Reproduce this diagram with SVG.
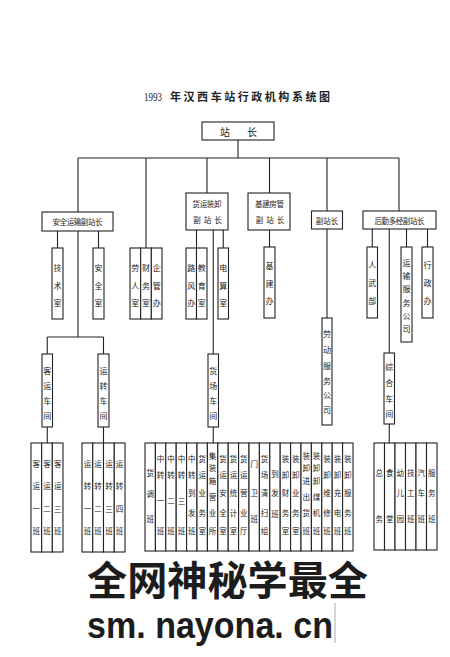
<svg xmlns="http://www.w3.org/2000/svg" width="450" height="657" viewBox="0 0 450 657">
<style>
.b{fill:#fff;stroke:#222;stroke-width:1.1}
.t{font-family:"Noto Sans CJK SC",sans-serif;fill:#222;text-anchor:middle;dominant-baseline:central}
.h{font-size:7.5px}
.v{font-size:8px}
.s{font-size:7.5px}
#connectors line{stroke:#222;stroke-width:1.1}
</style>
<rect width="450" height="657" fill="#fff"/>
<text x="144" y="101" font-family="Liberation Serif,serif" font-size="13" fill="#222" textLength="18" lengthAdjust="spacingAndGlyphs">1993</text>
<text x="170" y="101" font-family="Noto Sans CJK SC,sans-serif" font-size="11" font-weight="bold" fill="#222" textLength="160" lengthAdjust="spacing">年汉西车站行政机构系统图</text>

<g id="connectors">
<line x1="238" y1="140" x2="238" y2="158"/>
<line x1="78" y1="158" x2="399" y2="158"/>
<line x1="78" y1="158" x2="78" y2="212"/>
<line x1="146" y1="158" x2="146" y2="248"/>
<line x1="207" y1="158" x2="207" y2="193"/>
<line x1="269.5" y1="158" x2="269.5" y2="193"/>
<line x1="327" y1="158" x2="327" y2="211"/>
<line x1="399" y1="158" x2="399" y2="211"/>
<line x1="57.5" y1="231" x2="57.5" y2="248"/>
<line x1="98.5" y1="231" x2="98.5" y2="248"/>
<line x1="78" y1="231" x2="78" y2="337"/>
<line x1="47.25" y1="337" x2="103.5" y2="337"/>
<line x1="47.25" y1="337" x2="47.25" y2="354"/>
<line x1="103.5" y1="337" x2="103.5" y2="354"/>
<line x1="47.25" y1="427" x2="47.25" y2="443"/>
<line x1="103.5" y1="427" x2="103.5" y2="443"/>
<line x1="196.5" y1="230" x2="196.5" y2="248"/>
<line x1="213.25" y1="230" x2="213.25" y2="354"/>
<line x1="223.25" y1="230" x2="223.25" y2="248"/>
<line x1="213.25" y1="427" x2="213.25" y2="443"/>
<line x1="269.5" y1="230" x2="269.5" y2="247"/>
<line x1="327" y1="229" x2="327" y2="318"/>
<line x1="372.25" y1="229" x2="372.25" y2="247"/>
<line x1="389.25" y1="229" x2="389.25" y2="353"/>
<line x1="406.5" y1="229" x2="406.5" y2="247"/>
<line x1="427.5" y1="229" x2="427.5" y2="247"/>
<line x1="389.25" y1="424" x2="389.25" y2="443"/>
</g>

<g id="n-zhanzhang"><rect class="b" x="202" y="122" width="72" height="18"/><text class="t" font-size="10" x="225 252" y="131">站长</text></g>
<g id="n-anquanyunshu"><rect class="b" x="42" y="212" width="71" height="19"/><text class="t h" x="77.5" y="221.5" textLength="50">安全运输副站长</text></g>
<g id="n-huoyunzhuangxie"><rect class="b" x="186" y="193" width="42" height="37"/><text class="t h" x="207" y="203.5" textLength="29">货运装卸</text><text class="t h" x="197 207.5 218" y="219">副站长</text></g>
<g id="n-jijianfangguan"><rect class="b" x="248" y="193" width="42" height="37"/><text class="t h" x="269.5" y="203.5" textLength="29">基建房管</text><text class="t h" x="259.5 270 280.5" y="219">副站长</text></g>
<g id="n-fuzhanzhang"><rect class="b" x="311.5" y="211" width="31" height="18"/><text class="t h" x="327" y="220">副站长</text></g>
<g id="n-houqin"><rect class="b" x="363" y="211" width="73" height="18"/><text class="t h" x="399.5" y="220" textLength="50">后勤多经副站长</text></g>

<g id="n-jishushi"><rect class="b" x="52" y="248" width="11" height="71"/><text class="t v" x="57.5 57.5 57.5" y="267 285 302">技术室</text></g>
<g id="n-anquanshi"><rect class="b" x="93" y="248" width="11" height="71"/><text class="t v" x="98.5 98.5 98.5" y="267 285 302">安全室</text></g>
<g id="n-laorenshi"><rect class="b" x="130" y="248" width="10.67" height="71"/><text class="t v" x="135.3 135.3 135.3" y="267 285 302">劳人室</text></g>
<g id="n-caiwushi"><rect class="b" x="140.67" y="248" width="10.67" height="71"/><text class="t v" x="146 146 146" y="267 285 302">财务室</text></g>
<g id="n-qiguanban"><rect class="b" x="151.33" y="248" width="10.67" height="71"/><text class="t v" x="156.7 156.7 156.7" y="267 285 302">企管办</text></g>
<g id="n-lufengban"><rect class="b" x="186" y="248" width="10.5" height="71"/><text class="t v" x="191.25 191.25 191.25" y="267 285 302">路风办</text></g>
<g id="n-jiaoyushi"><rect class="b" x="196.5" y="248" width="10.5" height="71"/><text class="t v" x="201.75 201.75 201.75" y="267 285 302">教育室</text></g>
<g id="n-diansuanshi"><rect class="b" x="218" y="248" width="10.5" height="71"/><text class="t v" x="223.25 223.25 223.25" y="267 285 302">电算室</text></g>
<g id="n-jijianban"><rect class="b" x="264" y="247" width="11" height="71"/><text class="t v" x="269.5 269.5 269.5" y="265 283 300">基建办</text></g>
<g id="n-renwubu"><rect class="b" x="367" y="247" width="10.5" height="71"/><text class="t v" x="372.25 372.25 372.25" y="264 282 300">人武部</text></g>
<g id="n-yunshufuwu"><rect class="b" x="401" y="247" width="11" height="95"/><text class="t v" x="406.5 406.5 406.5 406.5 406.5 406.5" y="262 275 288 302 315 328">运输服务公司</text></g>
<g id="n-xingzhengban"><rect class="b" x="422" y="247" width="11" height="71"/><text class="t v" x="427.5 427.5 427.5" y="264 282 300">行政办</text></g>
<g id="n-laodongfuwu"><rect class="b" x="322" y="318" width="10" height="107"/><text class="t v" x="327 327 327 327 327 327" y="333 349 365 380 394 409">劳动服务公司</text></g>
<g id="n-keyunchejian"><rect class="b" x="42" y="354" width="10.5" height="73"/><text class="t v" x="47.25 47.25 47.25 47.25" y="370 385 400 415">客运车间</text></g>
<g id="n-yunzhuanchejian"><rect class="b" x="98" y="354" width="11" height="73"/><text class="t v" x="103.5 103.5 103.5 103.5" y="370 385 400 415">运转车间</text></g>
<g id="n-huochangchejian"><rect class="b" x="208" y="354" width="10.5" height="73"/><text class="t v" x="213.25 213.25 213.25 213.25" y="370 385 400 415">货场车间</text></g>
<g id="n-zonghechejian"><rect class="b" x="384" y="353" width="10.5" height="71"/><text class="t v" x="389.25 389.25 389.25 389.25" y="366 382 398 413">综合车间</text></g>

<g id="n-ky1"><rect class="b" x="31" y="443" width="10.67" height="109"/><text class="t s" x="36.3 36.3 36.3 36.3" y="463 485 508 530">客运一班</text></g>
<g id="n-ky2"><rect class="b" x="41.67" y="443" width="10.67" height="109"/><text class="t s" x="47 47 47 47" y="463 485 508 530">客运二班</text></g>
<g id="n-ky3"><rect class="b" x="52.33" y="443" width="10.67" height="109"/><text class="t s" x="57.7 57.7 57.7 57.7" y="463 485 508 530">客运三班</text></g>
<g id="n-yz1"><rect class="b" x="82" y="443" width="10.75" height="109"/><text class="t s" x="87.4 87.4 87.4 87.4" y="463 485 508 530">运转一班</text></g>
<g id="n-yz2"><rect class="b" x="92.75" y="443" width="10.75" height="109"/><text class="t s" x="98.1 98.1 98.1 98.1" y="463 485 508 530">运转二班</text></g>
<g id="n-yz3"><rect class="b" x="103.5" y="443" width="10.75" height="109"/><text class="t s" x="108.9 108.9 108.9 108.9" y="463 485 508 530">运转三班</text></g>
<g id="n-yz4"><rect class="b" x="114.25" y="443" width="10.75" height="109"/><text class="t s" x="119.6 119.6 119.6 119.6" y="463 485 508 530">运转四班</text></g>

<g id="n-hc0"><rect class="b" x="145" y="443" width="10.4" height="108"/><text class="t s" x="150.2 150.2 150.2" y="472 493 518">货调班</text></g>
<g id="n-hc1"><rect class="b" x="155.4" y="443" width="10.4" height="108"/><text class="t s" x="160.6 160.6 160.6 160.6" y="458 474 500 530">中转一班</text></g>
<g id="n-hc2"><rect class="b" x="165.8" y="443" width="10.4" height="108"/><text class="t s" x="171 171 171 171" y="458 474 500 530">中转二班</text></g>
<g id="n-hc3"><rect class="b" x="176.2" y="443" width="10.4" height="108"/><text class="t s" x="181.4 181.4 181.4 181.4" y="458 474 500 530">中转三班</text></g>
<g id="n-hc4"><rect class="b" x="186.6" y="443" width="10.4" height="108"/><text class="t s" x="191.8 191.8 191.8 191.8 191.8" y="458 474 492 512 530">中转到发班</text></g>
<g id="n-hc5"><rect class="b" x="197" y="443" width="10.4" height="108"/><text class="t s" x="202.2 202.2 202.2 202.2 202.2" y="458 474 492 512 530">货运业务室</text></g>
<g id="n-hc6"><rect class="b" x="207.4" y="443" width="10.4" height="108"/><text class="t s" x="212.6 212.6 212.6 212.6 212.6 212.6" y="455 467 480 496 512 530">集装箱营业所</text></g>
<g id="n-hc7"><rect class="b" x="217.8" y="443" width="10.4" height="108"/><text class="t s" x="223 223 223 223 223" y="458 474 492 512 530">货运安全室</text></g>
<g id="n-hc8"><rect class="b" x="228.2" y="443" width="10.4" height="108"/><text class="t s" x="233.4 233.4 233.4 233.4 233.4" y="458 474 492 512 530">货运统计室</text></g>
<g id="n-hc9"><rect class="b" x="238.6" y="443" width="10.4" height="108"/><text class="t s" x="243.8 243.8 243.8 243.8 243.8" y="458 474 492 512 530">货运营业厅</text></g>
<g id="n-hc10"><rect class="b" x="249" y="443" width="10.4" height="108"/><text class="t s" x="254.2 254.2 254.2" y="463 492 518">门卫班</text></g>
<g id="n-hc11"><rect class="b" x="259.4" y="443" width="10.4" height="108"/><text class="t s" x="264.6 264.6 264.6 264.6 264.6" y="458 474 492 512 530">货场清扫组</text></g>
<g id="n-hc12"><rect class="b" x="269.8" y="443" width="10.4" height="108"/><text class="t s" x="275 275 275" y="473 492 513">到发班</text></g>
<g id="n-hc13"><rect class="b" x="280.2" y="443" width="10.4" height="108"/><text class="t s" x="285.4 285.4 285.4 285.4 285.4" y="458 474 492 512 530">装卸财务室</text></g>
<g id="n-hc14"><rect class="b" x="290.6" y="443" width="10.4" height="108"/><text class="t s" x="295.8 295.8 295.8 295.8 295.8" y="458 474 492 512 530">装卸业务室</text></g>
<g id="n-hc15"><rect class="b" x="301" y="443" width="10.4" height="108"/><text class="t s" x="306.2 306.2 306.2 306.2 306.2 306.2" y="455 467 480 496 512 530">装卸进出货班</text></g>
<g id="n-hc16"><rect class="b" x="311.4" y="443" width="10.4" height="108"/><text class="t s" x="316.6 316.6 316.6 316.6 316.6 316.6" y="455 467 480 496 512 530">装卸卸煤机班</text></g>
<g id="n-hc17"><rect class="b" x="321.8" y="443" width="10.4" height="108"/><text class="t s" x="327 327 327 327 327" y="458 474 492 512 530">装卸维修班</text></g>
<g id="n-hc18"><rect class="b" x="332.2" y="443" width="10.4" height="108"/><text class="t s" x="337.4 337.4 337.4 337.4 337.4" y="458 474 492 512 530">装卸充电班</text></g>
<g id="n-hc19"><rect class="b" x="342.6" y="443" width="10.4" height="108"/><text class="t s" x="347.8 347.8 347.8 347.8 347.8" y="458 474 492 512 530">装卸服务班</text></g>

<g id="n-zw"><rect class="b" x="374" y="443" width="10.5" height="107"/><text class="t s" x="379.25 379.25" y="472 518">总务</text></g>
<g id="n-st"><rect class="b" x="384.5" y="443" width="10.5" height="107"/><text class="t s" x="389.75 389.75" y="472 518">食堂</text></g>
<g id="n-ey"><rect class="b" x="395" y="443" width="10.5" height="107"/><text class="t s" x="400.25 400.25 400.25" y="472 492 518">幼儿园</text></g>
<g id="n-jg"><rect class="b" x="405.5" y="443" width="10.5" height="107"/><text class="t s" x="410.75 410.75 410.75" y="472 492 518">技工班</text></g>
<g id="n-qc"><rect class="b" x="416" y="443" width="10.5" height="107"/><text class="t s" x="421.25 421.25 421.25" y="472 492 518">汽车班</text></g>
<g id="n-fw"><rect class="b" x="426.5" y="443" width="10.5" height="107"/><text class="t s" x="431.75 431.75 431.75" y="472 492 518">服务班</text></g>

<text x="87" y="595" font-family="Noto Sans CJK SC,sans-serif" font-size="40" font-weight="bold" fill="#1c1c1c" textLength="281" lengthAdjust="spacingAndGlyphs">全网神秘学最全</text>
<text x="87" y="638" font-family="Liberation Sans,Arial,sans-serif" font-size="37" font-weight="bold" fill="#1c1c1c" textLength="246" lengthAdjust="spacingAndGlyphs">sm. nayona. cn</text>
<line x1="335" y1="603" x2="335" y2="643" stroke="#aaa" stroke-width="1"/>
</svg>
